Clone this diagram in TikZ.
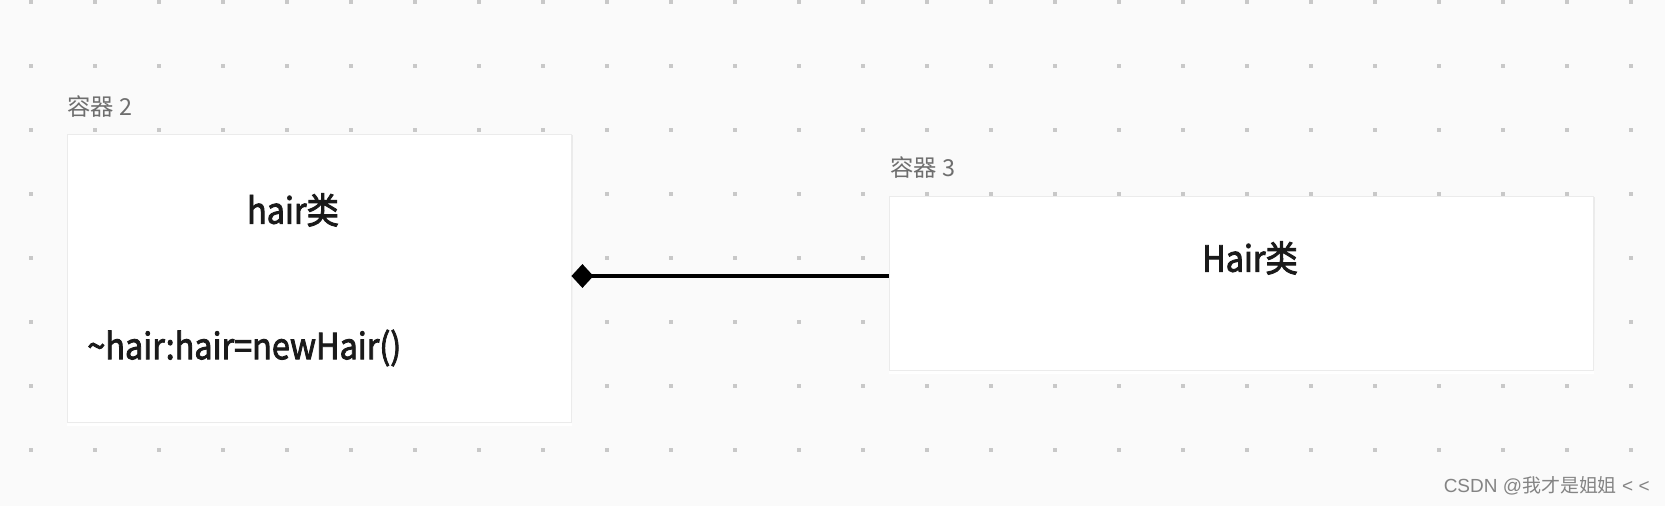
\documentclass[tikz,border=0pt]{standalone}
\usepackage{fontspec}
\setmainfont{Noto Sans CJK SC}
\newfontfamily\classfont[FakeBold=2.5]{Noto Sans CJK SC}
\newfontfamily\marksans{Liberation Sans}
\newfontfamily\markcjk{Noto Sans CJK SC}
\usetikzlibrary{arrows.meta}
\definecolor{canvas}{HTML}{FAFAFA}
\definecolor{griddot}{HTML}{C8C8C8}
\definecolor{caption}{HTML}{6E6E6E}
\definecolor{ink}{HTML}{1A1A1A}
\definecolor{rim}{HTML}{EBEBEB}
\definecolor{shade}{HTML}{D9D9D9}
\newcommand\narrow[1]{\scalebox{0.9}[1]{#1}}
\tikzset{
	container/.style={draw=rim, fill=white, line width=0.5pt, inner sep=0pt},
	boxcaption/.style={anchor=west, text=caption, inner sep=0pt, font=\fontsize{13.3}{16}\selectfont},
	classname/.style={text=ink, inner sep=0pt, font=\fontsize{20.5}{24}\selectfont\classfont},
	member/.style={anchor=west, text=ink, inner sep=0pt, font=\fontsize{20.5}{24}\selectfont\classfont},
	composition/.style={line width=2.2pt, {Diamond[length=12.5pt,width=13.6pt]}-}
}

\begin{document}
\begin{tikzpicture}[x=0.02cm, y=-0.02cm]
		%%%%% START %%%%%
		
		\fill[canvas] (0, 0) rectangle (1665, 506);
		\useasboundingbox (0, 0) rectangle (1665, 506);
		
		\foreach \i in {0,...,25}
			\foreach \j in {0,...,7}
				\fill[griddot] (31+64*\i-2, 2+64*\j-2) rectangle ++(4, 4);
		
		% box shadows
		\fill[shade] (67, 136) rectangle (572, 425);
		\fill[shade] (889, 198) rectangle (1594, 373);
		
		\node[container, minimum width=504*0.02cm, minimum height=288*0.02cm] (hairbox) at (319, 278) {};
		\node[container, minimum width=704*0.02cm, minimum height=174*0.02cm] (Hairbox) at (1241, 283) {};
		
		\node[boxcaption] (cap2) at (67, 107) {容器 2};
		\node[boxcaption] (cap3) at (890, 168) {容器 3};
		
		\node[classname] (hairname) at (293, 210) {\narrow{hair类}};
		\node[member] (hairfield) at (87, 348) {\narrow{\char`\~hair:hair=newHair()}};
		\node[classname] (Hairname) at (1250, 258) {\narrow{Hair类}};
		
		\draw[composition] (hairbox.east |- 0, 276) -- (Hairbox.west |- 0, 276);
		
		\node[anchor=east, text=caption!85, inner sep=0pt, font=\fontsize{10.8}{13}\selectfont] (mark) at (1650, 486) {\marksans CSDN @\markcjk 我才是姐姐\marksans{} < <};
		
		%%%%% END %%%%%
	\end{tikzpicture}
\end{document}
